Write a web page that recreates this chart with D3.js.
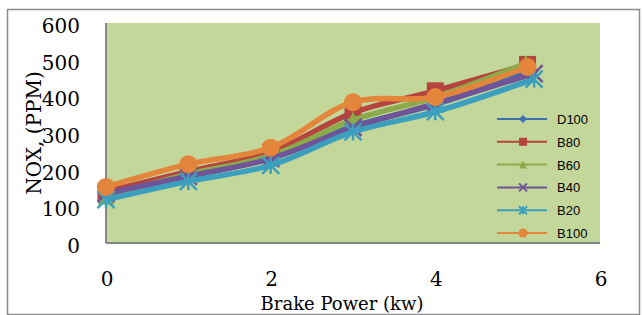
<!DOCTYPE html>
<html lang="en">
	<head>
		<meta charset="utf-8">
		<title>NOX vs Brake Power</title>
		<script src="https://d3js.org/d3.v7.min.js"></script>
		<style type="text/css">
            body { margin: 0; background: #fff; }
            svg { display: block; }
            .tick-label { font-family: "DejaVu Serif", serif; font-size: 20px; fill: #000; }
            .legend-label { font-family: "Liberation Sans", Arial, sans-serif; font-size: 13px; fill: #000; }
		</style>
	</head>
	<body>
        <svg></svg>
		<script type="text/javascript">

			// data
			var seriesNames = ["D100", "B80", "B60", "B40", "B20", "B100"];
			var xD100 = [0, 1, 2, 3, 4, 5.15];
			var xB80  = [0, 1, 2, 3, 4, 5.12];
			var xB60  = [0, 1, 2, 3, 4, 5.1];
			var xB40  = [0, 1, 2, 3, 4, 5.2];
			var xB20  = [0, 1, 2, 3, 4, 5.2];
			var xB100 = [0, 1, 2, 3, 4, 5.12];
			var noxD100 = [132, 182, 232, 318, 378, 468];
			var noxB80  = [140, 195, 248, 355, 415, 487];
			var noxB60  = [128, 188, 238, 335, 398, 490];
			var noxB40  = [135, 182, 230, 315, 380, 462];
			var noxB20  = [118, 168, 212, 303, 358, 447];
			var noxB100 = [153, 215, 260, 384, 398, 480];
			var xTicks = [0, 2, 4, 6];
			var yTicks = [0, 100, 200, 300, 400, 500, 600];

			var w = 644;
			var h = 315;

			var colors = ["#3F6FB0", "#B5443F", "#8BAA4B", "#6F5597", "#3C9FBE", "#E3853A"];
			var shapes = ["diamond", "square", "triangle", "cross", "star", "circle"];
			var xs = [xD100, xB80, xB60, xB40, xB20, xB100];
			var ys = [noxD100, noxB80, noxB60, noxB40, noxB20, noxB100];

			var series = seriesNames.map((name, i) => ({
				name: name,
				color: colors[i],
				shape: shapes[i],
				points: xs[i].map((x, j) => ({x: x, y: ys[i][j]}))
			}));

			var svg = d3.select("svg")
						.attr("width", w)
						.attr("height", h);

			// outer chart frame
			svg.append("rect")
				.attr("x", 7.5).attr("y", 9.5)
				.attr("width", 632).attr("height", 305)
				.attr("fill", "#fff")
				.attr("stroke", "#8c8c8c")
				.attr("stroke-width", 1.5);

			var x = d3.scaleLinear().domain([0, 6]).range([106, 600]);
			var y = d3.scaleLinear().domain([0, 600]).range([243, 23]);

			// plot area
			svg.append("rect")
				.attr("x", x(0)).attr("y", y(600))
				.attr("width", x(6) - x(0)).attr("height", y(0) - y(600))
				.attr("fill", "#C4D79B");

			// axis lines
			svg.append("line")
				.attr("x1", x(0)).attr("x2", x(0))
				.attr("y1", y(600)).attr("y2", y(0))
				.attr("stroke", "#868686").attr("stroke-width", 2);
			svg.append("line")
				.attr("x1", x(0)).attr("x2", x(6))
				.attr("y1", y(0)).attr("y2", y(0))
				.attr("stroke", "#868686").attr("stroke-width", 2);

			// tick labels
			svg.selectAll(".ytick")
				.data(yTicks).enter()
				.append("text")
				.attr("class", "tick-label")
				.attr("x", 80)
				.attr("y", d => y(d) + 10)
				.attr("text-anchor", "end")
				.text(d => d);

			svg.selectAll(".xtick")
				.data(xTicks).enter()
				.append("text")
				.attr("class", "tick-label")
				.attr("x", d => x(d) + 1)
				.attr("y", 286)
				.attr("text-anchor", "middle")
				.text(d => d);

			// axis titles
			svg.append("text")
				.attr("class", "tick-label")
				.style("font-size", "18px")
				.attr("x", 342)
				.attr("y", 310)
				.attr("text-anchor", "middle")
				.text("Brake Power (kw)");

			svg.append("text")
				.attr("class", "tick-label")
				.attr("transform", "translate(41,133) rotate(-90)")
				.attr("text-anchor", "middle")
				.text("NOX, (PPM)");

			// marker drawer
			function marker(g, shape, color, size, sw) {
				var s = size;
				if (shape === "circle") {
					g.append("circle").attr("r", s / 2).attr("fill", color);
				} else if (shape === "square") {
					g.append("rect").attr("x", -s / 2).attr("y", -s / 2)
						.attr("width", s).attr("height", s).attr("fill", color);
				} else if (shape === "diamond") {
					g.append("path")
						.attr("d", `M0,${-s/2}L${s/2},0L0,${s/2}L${-s/2},0Z`)
						.attr("fill", color);
				} else if (shape === "triangle") {
					g.append("path")
						.attr("d", `M0,${-s/2}L${s/2},${s/2}L${-s/2},${s/2}Z`)
						.attr("fill", color);
				} else if (shape === "cross") {
					g.append("path")
						.attr("d", `M${-s/2},${-s/2}L${s/2},${s/2}M${s/2},${-s/2}L${-s/2},${s/2}`)
						.attr("stroke", color).attr("stroke-width", sw);
				} else if (shape === "star") {
					g.append("path")
						.attr("d", `M${-s/2},${-s/2}L${s/2},${s/2}M${s/2},${-s/2}L${-s/2},${s/2}M0,${-s/2}L0,${s/2}`)
						.attr("stroke", color).attr("stroke-width", sw);
				}
			}

			var line = d3.line()
				.x(d => x(d.x))
				.y(d => y(d.y))
				.curve(d3.curveCatmullRom.alpha(0.5));

			series.forEach(s => {
				var g = svg.append("g");
				g.append("path")
					.attr("d", line(s.points))
					.attr("fill", "none")
					.attr("stroke", s.color)
					.attr("stroke-width", 5.5)
					.attr("stroke-linejoin", "round");
				s.points.forEach(p => {
					var m = g.append("g").attr("transform", `translate(${x(p.x)},${y(p.y)})`);
					marker(m, s.shape, s.color, s.shape === "circle" ? 18 : 17, 2.5);
				});
			});

			// legend
			var LEGEND_X = 497;
			var LEGEND_Y = 119;
			var LEGEND_STEP = 22.8;
			var legend = svg.selectAll(".legend")
				.data(series).enter()
				.append("g")
				.attr("transform", (d, i) => `translate(${LEGEND_X},${LEGEND_Y + LEGEND_STEP * i})`);

			legend.append("line")
				.attr("x1", 0).attr("x2", 50)
				.attr("stroke", d => d.color)
				.attr("stroke-width", 2);
			legend.each(function(d) {
				var m = d3.select(this).append("g").attr("transform", "translate(26,0)");
				marker(m, d.shape, d.color, d.shape === "circle" ? 9 : 8, 2);
			});
			legend.append("text")
				.attr("class", "legend-label")
				.attr("x", 60)
				.attr("y", 5)
				.text(d => d.name);

		</script>
	</body>
</html>
